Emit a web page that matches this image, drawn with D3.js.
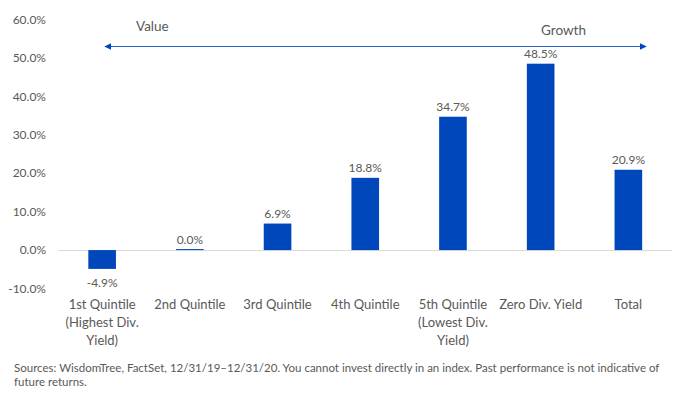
<!DOCTYPE html>
<html>
<head>
<meta charset="utf-8">
<script src="https://cdn.jsdelivr.net/npm/d3@7"></script>
<style>
  body { margin: 0; background: #fff; }
  svg text { font-family: Lato, "Open Sans", sans-serif; fill: #595959; }
</style>
</head>
<body>
<div id="chart"></div>
<script>
const categories = [
  ['1st Quintile', '(Highest Div.', 'Yield)'],
  ['2nd Quintile'],
  ['3rd Quintile'],
  ['4th Quintile'],
  ['5th Quintile', '(Lowest Div.', 'Yield)'],
  ['Zero Div. Yield'],
  ['Total']
]
const values = [-4.9, 0.0, 6.9, 18.8, 34.7, 48.5, 20.9]
const yTicks = [-10, 0, 10, 20, 30, 40, 50, 60]
const footnote = [
  'Sources: WisdomTree, FactSet, 12/31/19\u201312/31/20. You cannot invest directly in an index. Past performance is not indicative of',
  'future returns.'
]

const width = 675
const height = 393
const margin = {top: 19, right: 3, bottom: 105, left: 58.5}

const svg = d3.select('#chart').append('svg')
    .attr('width', width)
    .attr('height', height)

const x = d3.scaleBand()
    .domain(d3.range(values.length))
    .range([margin.left, width - margin.right])
    .paddingInner(0.685)
    .paddingOuter(0.34)

const y = d3.scaleLinear()
    .domain([-10, 60])
    .range([288.5, 19.5])

// y tick labels (no gridlines in the original)
svg.append('g')
    .selectAll('text')
    .data(yTicks)
    .enter().append('text')
    .attr('x', 46)
    .attr('y', d => y(d))
    .attr('dy', '0.35em')
    .attr('text-anchor', 'end')
    .style('font-size', '12px')
    .text(d => d.toFixed(1) + '%')

// zero line
svg.append('line')
    .attr('x1', margin.left)
    .attr('x2', width - margin.right)
    .attr('y1', y(0) + 0.5)
    .attr('y2', y(0) + 0.5)
    .attr('stroke', '#d9d9d9')
    .attr('stroke-width', 1)

// bars (zero value still shows as a thin sliver)
svg.append('g')
    .selectAll('rect')
    .data(values)
    .enter().append('rect')
    .attr('x', (d, i) => x(i))
    .attr('width', x.bandwidth())
    .attr('y', d => d === 0 ? y(0) - 1 : y(Math.max(0, d)))
    .attr('height', d => Math.max(Math.abs(y(d) - y(0)), 1))
    .attr('fill', '#0047BB')

// value labels
svg.append('g')
    .selectAll('text')
    .data(values)
    .enter().append('text')
    .attr('x', (d, i) => x(i) + x.bandwidth() / 2)
    .attr('y', d => d < 0 ? y(d) + 14 : y(d) - 6)
    .attr('dy', d => d < 0 ? '0.35em' : '0')
    .attr('text-anchor', 'middle')
    .style('font-size', '12px')
    .text(d => d.toFixed(1) + '%')

// category labels
const catLabels = svg.append('g')
    .selectAll('text')
    .data(categories)
    .enter().append('text')
    .attr('text-anchor', 'middle')
    .style('font-size', '13px')

catLabels.selectAll('tspan')
    .data((d, i) => d.map(line => ({line, i})))
    .enter().append('tspan')
    .attr('x', d => x(d.i) + x.bandwidth() / 2)
    .attr('y', (d, j) => 309 + j * 18)
    .text(d => d.line)

// value / growth arrow
const defs = svg.append('defs')
defs.append('marker')
    .attr('id', 'head')
    .attr('viewBox', '0 0 10 10')
    .attr('refX', 9)
    .attr('refY', 5)
    .attr('markerWidth', 6)
    .attr('markerHeight', 6)
    .attr('orient', 'auto-start-reverse')
    .append('path')
    .attr('d', 'M0,0 L10,5 L0,10 z')
    .attr('fill', '#0047BB')

svg.append('line')
    .attr('x1', 105)
    .attr('x2', 646)
    .attr('y1', 46.5)
    .attr('y2', 46.5)
    .attr('stroke', '#2e64c8')
    .attr('stroke-width', 1.2)
    .attr('marker-start', 'url(#head)')
    .attr('marker-end', 'url(#head)')

svg.append('text')
    .attr('x', 136)
    .attr('y', 31)
    .style('font-size', '13.5px')
    .text('Value')

svg.append('text')
    .attr('x', 541)
    .attr('y', 35)
    .style('font-size', '13.5px')
    .text('Growth')

// footnote
svg.append('g')
    .selectAll('text')
    .data(footnote)
    .enter().append('text')
    .attr('x', 14)
    .attr('y', (d, i) => 372 + i * 14)
    .style('font-size', '11.5px')
    .text(d => d)
</script>
</body>
</html>
